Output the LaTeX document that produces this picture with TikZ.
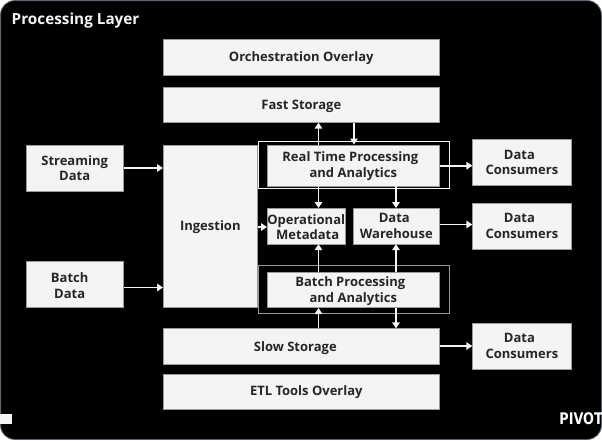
\documentclass[tikz,border=0pt]{standalone}
\usepackage{fontspec}
\setmainfont{Open Sans}
\newfontfamily\logofont{DejaVu Sans}
\usetikzlibrary{arrows.meta}
\definecolor{boxfill}{HTML}{F4F4F4}
\definecolor{boxline}{HTML}{9A9A9A}
\definecolor{edge}{HTML}{5A6270}
\tikzset{x=1pt,y=-1pt,
 block/.style={draw=boxline,line width=.6pt,fill=boxfill,inner sep=0pt,align=center,font=\bfseries\fontsize{13}{15.8}\selectfont,text=black!85},
 frame/.style={line width=.9pt,fill=black},
 flow/.style={draw=boxfill,line width=1.9pt,-{Triangle[length=6pt,width=7.5pt]}}}
\newcommand{\blk}[6][]{\node[block,minimum width=#4pt-#2pt,minimum height=#5pt-#3pt,anchor=north west,#1] (#6) at (#2,#3)}
\newcommand{\pd}[1]{\rule{0pt}{\dimexpr 10pt+#1pt+#1pt\relax}}
\begin{document}
\begin{tikzpicture}
\useasboundingbox (0,0) rectangle (602,440);
\fill[white] (0,0) rectangle (602,440);
\draw[draw=edge,fill=black,line width=.8pt,rounded corners=14pt] (.6,.6) rectangle (601.4,439.4);
\node[anchor=west,text=boxfill,font=\bfseries\fontsize{15.3}{18}\selectfont,inner sep=0pt] (title) at (11.5,21) {Processing Layer};
\draw[frame,draw=boxfill] (258.5,141.5) rectangle (449.5,188.5);
\draw[frame,draw=boxfill!62!black] (258.5,265.5) rectangle (449.5,313.5);
\blk{163}{39.2}{439}{74.8}{orch} {\pd{1}Orchestration Overlay};
\blk{163}{86.5}{439}{122}{fast} {\pd{1.5}Fast Storage};
\blk{25.5}{144.5}{123.2}{191}{stream} {Streaming\\Data};
\blk{25.5}{261}{123.2}{307.4}{batch} {\pd{1}\hspace*{-10pt}Batch\\\hspace*{-10pt}Data};
\blk{163}{144.5}{257}{307.4}{ing} {\pd{.5}Ingestion};
\blk{267}{144.5}{439}{185.5}{rt} {\pd{1}\hspace*{-6pt}Real Time Processing\\and Analytics};
\blk{267}{208}{344.5}{243.5}{meta} {\pd{1}Operational\\\hspace*{3pt}Metadata};
\blk{353}{208}{439}{243.5}{wh} {\hspace*{-4pt}Data\\Warehouse};
\blk{267}{272}{439}{307.4}{bp} {\pd{1}\hspace*{-6pt}Batch Processing\\and Analytics};
\blk{163}{328.4}{439}{364}{slow} {\pd{1.5}\hspace*{-12pt}Slow Storage};
\blk{163}{373.5}{439}{409}{etl} {\pd{1}\hspace*{10pt}ETL Tools Overlay};
\blk{472.4}{139}{570.8}{185.4}{c1} {\hspace*{-5pt}Data\\Consumers};
\blk{472.4}{203}{570.8}{249}{c2} {\hspace*{-5pt}Data\\Consumers};
\blk{472.4}{322.8}{570.8}{369.2}{c3} {\hspace*{-5pt}Data\\Consumers};
\fill[boxfill] (0,413.5) rectangle (12,423.5);
\node[anchor=east,text=white,inner sep=0pt,font=\logofont\bfseries\fontsize{16}{18}\selectfont] (logo) at (603,419) {\scalebox{.8}[1]{PIVOT}};
\draw[flow] (stream.east |- 0,168) -- (ing.west |- 0,168);
\draw[flow] (batch.east |- 0,287.5) -- (ing.west |- 0,287.5);
\draw[flow] (ing.east |- 0,227) -- (meta.west |- 0,227);
\draw[flow] (rt.east |- 0,165.7) -- (c1.west |- 0,165.7);
\draw[flow] (wh.east |- 0,224.5) -- (c2.west |- 0,224.5);
\draw[flow] (slow.east |- 0,346) -- (c3.west |- 0,346);
\draw[flow] (318.5,0 |- rt.north) -- (318.5,0 |- fast.south);
\draw[flow] (354,0 |- fast.south) -- (354,0 |- rt.north);
\draw[flow] (318.5,0 |- rt.south) -- (318.5,0 |- meta.north);
\draw[flow] (396,0 |- rt.south) -- (396,0 |- wh.north);
\draw[flow] (318.5,0 |- bp.north) -- (318.5,0 |- meta.south);
\draw[flow] (396,0 |- bp.north) -- (396,0 |- wh.south);
\draw[flow] (318.5,0 |- slow.north) -- (318.5,0 |- bp.south);
\draw[flow] (396,0 |- bp.south) -- (396,0 |- slow.north);
\end{tikzpicture}
\end{document}
